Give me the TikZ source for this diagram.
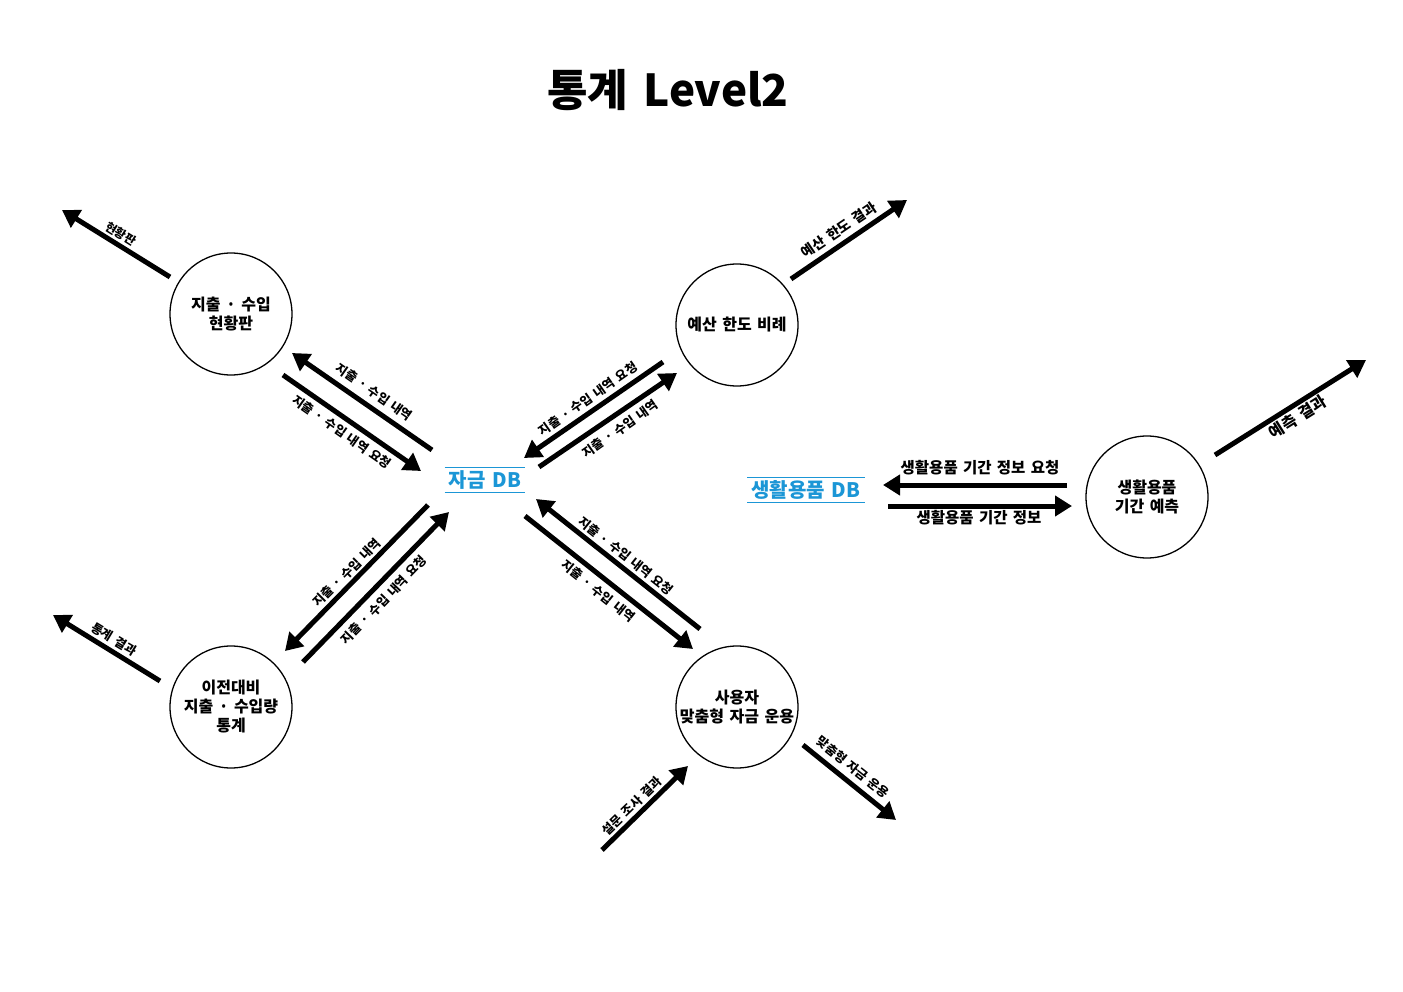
\documentclass[tikz,border=0pt]{standalone}
\usepackage{fontspec}
\setmainfont{Noto Sans CJK KR}[WordSpace=1.5]
\usetikzlibrary{arrows.meta,positioning}
\definecolor{dbblue}{RGB}{27,150,214}

\begin{document}
\begin{tikzpicture}[
    x=1pt, y=-1pt,
    proc/.style={circle, draw=black, line width=1.3pt, minimum size=122pt, inner sep=0pt, align=center, font=\fontsize{16}{19}\selectfont\bfseries},
    store/.style={text=dbblue, font=\fontsize{20}{22}\selectfont\bfseries, minimum height=24pt, inner xsep=4pt, inner ysep=0pt},
    storeline/.style={draw=dbblue, line width=1.2pt},
    flow/.style={-{Triangle[length=17pt,width=20pt]}, line width=5pt},
    lbl/.style={font=\fontsize{12.5}{14}\selectfont\bfseries, inner sep=1pt}
]
\fill[white] (0,0) rectangle (1403,992);
\useasboundingbox (0,0) rectangle (1403,992);

% Title
\node[font=\fontsize{44}{48}\selectfont\bfseries] (title) at (668,90) {통계 Level2};

% Processes
\node[proc] (board) at (231,314) {지출 · 수입\\현황판};
\node[proc] (budget) at (737,325) {예산 한도 비례};
\node[proc] (period) at (1147,497) {생활용품\\기간 예측};
\node[proc] (compare) at (231,707) {이전대비\\지출 · 수입량\\통계};
\node[proc] (custom) at (737,707) {사용자\\맞춤형 자금 운용};

% Data stores
\node[store] (fund) at (485,480) {자금 DB};
\draw[storeline] (fund.north west) -- (fund.north east) (fund.south west) -- (fund.south east);
\node[store] (items) at (806,490) {생활용품 DB};
\draw[storeline] (items.north west) -- (items.north east) (items.south west) -- (items.south east);

% Arrow end points
\coordinate (b1s) at (170,277);  \coordinate (b1e) at (62,210);
\coordinate (b2s) at (432,450);  \coordinate (b2e) at (292,353);
\coordinate (b3s) at (283,375);  \coordinate (b3e) at (421,471);
\coordinate (u1s) at (663,362);  \coordinate (u1e) at (524,458);
\coordinate (u2s) at (539,467);  \coordinate (u2e) at (677,373);
\coordinate (u3s) at (791,279);  \coordinate (u3e) at (907,200);
\coordinate (p1s) at (1067,485); \coordinate (p1e) at (883,485);
\coordinate (p2s) at (888,506);  \coordinate (p2e) at (1072,506);
\coordinate (p3s) at (1215,455); \coordinate (p3e) at (1366,360);
\coordinate (c1s) at (428,505);  \coordinate (c1e) at (285,651);
\coordinate (c2s) at (303,662);  \coordinate (c2e) at (449,512);
\coordinate (c3s) at (160,681);  \coordinate (c3e) at (53,615);
\coordinate (m1s) at (700,629);  \coordinate (m1e) at (536,499);
\coordinate (m2s) at (525,516);  \coordinate (m2e) at (693,649);
\coordinate (m3s) at (602,850);  \coordinate (m3e) at (688,766);
\coordinate (m4s) at (803,745);  \coordinate (m4e) at (896,820);

% Flows
\draw[flow] (b1s) -- (b1e);
\draw[flow] (b2s) -- (b2e);
\draw[flow] (b3s) -- (b3e);
\draw[flow] (u1s) -- (u1e);
\draw[flow] (u2s) -- (u2e);
\draw[flow] (u3s) -- (u3e);
\draw[flow] (p1s) -- (p1e);
\draw[flow] (p2s) -- (p2e);
\draw[flow] (p3s) -- (p3e);
\draw[flow] (c1s) -- (c1e);
\draw[flow] (c2s) -- (c2e);
\draw[flow] (c3s) -- (c3e);
\draw[flow] (m1s) -- (m1e);
\draw[flow] (m2s) -- (m2e);
\draw[flow] (m3s) -- (m3e);
\draw[flow] (m4s) -- (m4e);

% Flow labels
\node[lbl, rotate=-32, font=\fontsize{12}{14}\selectfont\bfseries] (lb1) at (121,234) {현황판};
\node[lbl, rotate=-35] (lb2) at (374,392) {지출 · 수입 내역};
\node[lbl, rotate=-35] (lb3) at (342,432) {지출 · 수입 내역 요청};
\node[lbl, rotate=35] (lu1) at (588,399) {지출 · 수입 내역 요청};
\node[lbl, rotate=35] (lu2) at (620,429) {지출 · 수입 내역};
\node[lbl, rotate=34, font=\fontsize{14}{16}\selectfont\bfseries] (lu3) at (839,230) {예산 한도 결과};
\node[lbl, font=\fontsize{15.5}{17}\selectfont\bfseries] (lp1) at (980,468) {생활용품 기간 정보 요청};
\node[lbl, font=\fontsize{15.5}{17}\selectfont\bfseries] (lp2) at (979,518) {생활용품 기간 정보};
\node[lbl, rotate=32, font=\fontsize{16}{18}\selectfont\bfseries] (lp3) at (1298,417) {예측 결과};
\node[lbl, rotate=45] (lc1) at (347,573) {지출 · 수입 내역};
\node[lbl, rotate=46] (lc2) at (384,600) {지출 · 수입 내역 요청};
\node[lbl, rotate=-31] (lc3) at (114,639) {통계 결과};
\node[lbl, rotate=-38.5] (lm1) at (626,556) {지출 · 수입 내역 요청};
\node[lbl, rotate=-38.5] (lm2) at (598,591) {지출 · 수입 내역};
\node[lbl, rotate=44] (lm3) at (632,806) {설문 조사 결과};
\node[lbl, rotate=-38.5] (lm4) at (853,767) {맞춤형 자금 운용};

\end{tikzpicture}
\end{document}
